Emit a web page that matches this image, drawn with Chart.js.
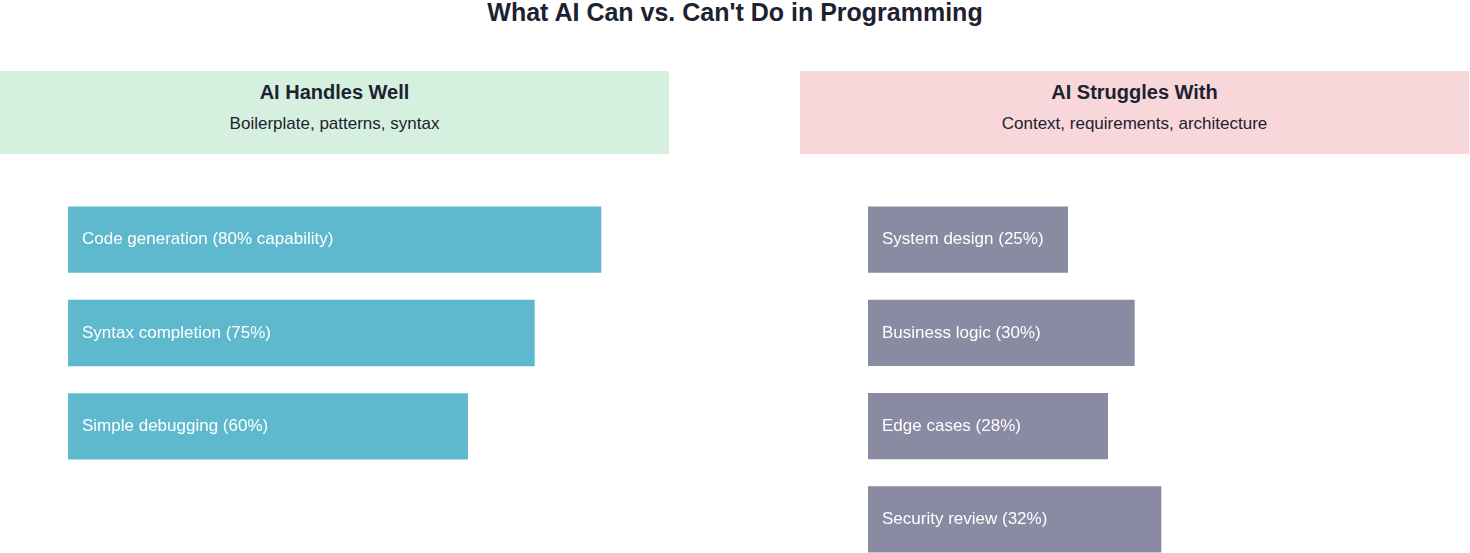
<!DOCTYPE html>
<html>
<head>
<meta charset="utf-8">
<script src="https://cdn.jsdelivr.net/npm/chart.js@4/dist/chart.umd.min.js"></script>
<style>
  body { margin:0; width:1470px; height:553px; overflow:hidden; background:#fff; font-family:"Liberation Sans", Arial, sans-serif; color:#1c2230; position:relative; }
  .title { position:absolute; top:-4px; left:0; width:1470px; text-align:center; font-weight:bold; font-size:25px; line-height:32px; }
  .head { position:absolute; top:71px; height:83px; width:669px; text-align:center; }
  .head b { display:block; font-size:20px; margin-top:9px; line-height:24px; }
  .head span { display:block; font-size:17px; margin-top:10px; line-height:20px; }
  .cv { position:absolute; top:193px; width:600px; }
</style>
</head>
<body>
<div class="title">What AI Can vs. Can't Do in Programming</div>
<div class="head" style="left:0;background:#d6f0df"><b>AI Handles Well</b><span>Boilerplate, patterns, syntax</span></div>
<div class="head" style="left:800px;background:#f7d7d9"><b>AI Struggles With</b><span>Context, requirements, architecture</span></div>
<div class="cv" style="left:68px;height:280px"><canvas id="left"></canvas></div>
<div class="cv" style="left:868px;height:373px"><canvas id="right"></canvas></div>
<script>
// bar lengths as drawn (relative units), and the text shown on each bar
var canLabels = ["Code generation (80% capability)", "Syntax completion (75%)", "Simple debugging (60%)"];
var canValues = [8, 7, 6];
var cantLabels = ["System design (25%)", "Business logic (30%)", "Edge cases (28%)", "Security review (32%)"];
var cantValues = [3, 4, 3.6, 4.4];

var barText = {
    id: 'barText',
    afterDatasetsDraw: function(chart){
        var ctx = chart.ctx;
        var meta = chart.getDatasetMeta(0);
        ctx.save();
        ctx.fillStyle = '#ffffff';
        ctx.font = '17px "Liberation Sans", Arial, sans-serif';
        ctx.textBaseline = 'middle';
        meta.data.forEach(function(bar, i){
            ctx.fillText(chart.data.labels[i], bar.base + 14, bar.y);
        });
        ctx.restore();
    }
};

function makeChart(id, labels, values, color){
    new Chart(document.getElementById(id), {
        type: 'bar',
        data: {
            labels: labels,
            datasets: [{ data: values, backgroundColor: color, barPercentage: 0.71, categoryPercentage: 1 }]
        },
        options: {
            indexAxis: 'y',
            responsive: true,
            maintainAspectRatio: false,
            animation: false,
            layout: { padding: 0 },
            plugins: { legend: { display: false }, tooltip: { enabled: false } },
            scales: {
                x: { display: false, min: 0, max: 9 },
                y: { display: false }
            }
        },
        plugins: [barText]
    });
}
makeChart('left', canLabels, canValues, '#5eb9cf');
makeChart('right', cantLabels, cantValues, '#8b8aa3');
</script>
</body>
</html>
